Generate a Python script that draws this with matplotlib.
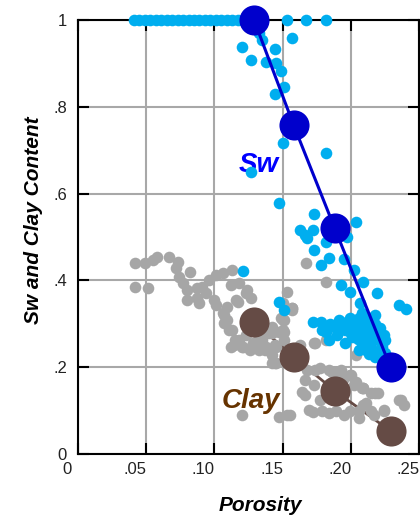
import numpy as np
import matplotlib.pyplot as plt
from matplotlib.transforms import ScaledTranslation

plt.rcParams['font.family'] = ['Liberation Sans', 'DejaVu Sans']

# Sw samples sitting on Sw = 1
sw_top_x = [0.041, 0.045, 0.049, 0.053, 0.057, 0.061, 0.065, 0.069, 0.073, 0.077,
            0.081, 0.085, 0.089, 0.093, 0.097, 0.101, 0.105, 0.109, 0.113, 0.117,
            0.121, 0.125, 0.153, 0.167, 0.182]

# other Sw samples
sw_x = [0.133, 0.135, 0.120, 0.157, 0.144, 0.127, 0.138, 0.145, 0.149, 0.151,
        0.144, 0.150, 0.182, 0.127, 0.147, 0.173, 0.204, 0.163, 0.166, 0.172,
        0.168, 0.182, 0.197, 0.173, 0.184, 0.178, 0.195, 0.202, 0.209, 0.193,
        0.199, 0.219, 0.207, 0.235, 0.240, 0.121, 0.147, 0.151,
        0.172, 0.179, 0.189, 0.191, 0.199, 0.206, 0.213, 0.218, 0.220, 0.223,
        0.201, 0.208, 0.215, 0.211, 0.196, 0.184, 0.218, 0.223, 0.225, 0.211,
        0.218, 0.220, 0.196, 0.206, 0.213, 0.203, 0.190, 0.205, 0.215, 0.222,
        0.218, 0.208, 0.213, 0.182, 0.206,
        0.197, 0.203, 0.209, 0.215, 0.221, 0.224, 0.199, 0.205, 0.211, 0.217,
        0.223, 0.209, 0.215, 0.221, 0.225, 0.219, 0.213, 0.178, 0.185, 0.183,
        0.190]
sw_y = [0.970, 0.954, 0.938, 0.958, 0.933, 0.908, 0.904, 0.900, 0.883, 0.845,
        0.829, 0.716, 0.694, 0.650, 0.578, 0.553, 0.535, 0.516, 0.505, 0.516,
        0.498, 0.488, 0.500, 0.470, 0.452, 0.435, 0.449, 0.424, 0.396, 0.389,
        0.373, 0.371, 0.348, 0.343, 0.334, 0.422, 0.350, 0.332,
        0.304, 0.286, 0.290, 0.309, 0.313, 0.313, 0.313, 0.293, 0.270, 0.247,
        0.270, 0.256, 0.233, 0.240, 0.256, 0.263, 0.224, 0.224, 0.263, 0.300,
        0.300, 0.280, 0.286, 0.286, 0.286, 0.300, 0.275, 0.265, 0.255, 0.235,
        0.320, 0.325, 0.250, 0.281, 0.240,
        0.305, 0.295, 0.305, 0.297, 0.290, 0.275, 0.280, 0.275, 0.270, 0.265,
        0.255, 0.258, 0.245, 0.240, 0.232, 0.228, 0.230, 0.305, 0.300, 0.292,
        0.297]

# clay samples
clay_x = [0.042, 0.049, 0.055, 0.058, 0.067, 0.073, 0.072, 0.082, 0.074, 0.077,
          0.080, 0.080, 0.087, 0.091, 0.096, 0.101, 0.106, 0.087, 0.094, 0.089,
          0.113, 0.042, 0.051, 0.112, 0.116, 0.124, 0.127, 0.101, 0.106, 0.107,
          0.111, 0.115, 0.120, 0.131, 0.138, 0.118, 0.123, 0.117, 0.109, 0.153,
          0.150, 0.157, 0.167, 0.182, 0.151, 0.150, 0.140, 0.135, 0.128, 0.145,
          0.144, 0.163, 0.173, 0.182, 0.204, 0.168, 0.174, 0.184, 0.193, 0.200,
          0.204, 0.209, 0.166, 0.173, 0.164, 0.218, 0.237, 0.239, 0.172, 0.179,
          0.189, 0.199, 0.206, 0.215, 0.224, 0.211, 0.120, 0.147, 0.153, 0.142,
          0.174, 0.186, 0.193, 0.199, 0.208, 0.215, 0.109, 0.113, 0.123, 0.133,
          0.138, 0.142, 0.149, 0.151, 0.157, 0.220,
          0.177, 0.188, 0.195, 0.202, 0.209, 0.191, 0.166, 0.184, 0.195, 0.206,
          0.217, 0.224, 0.169, 0.155, 0.177, 0.235, 0.209,
          0.100, 0.107, 0.118, 0.114, 0.126, 0.137, 0.144, 0.151, 0.112, 0.121,
          0.133, 0.142, 0.145, 0.157, 0.150, 0.147, 0.142]
clay_y = [0.440, 0.440, 0.447, 0.454, 0.454, 0.442, 0.428, 0.419, 0.408, 0.394,
          0.378, 0.355, 0.359, 0.385, 0.401, 0.412, 0.417, 0.382, 0.371, 0.348,
          0.424, 0.385, 0.382, 0.389, 0.355, 0.378, 0.359, 0.343, 0.325, 0.302,
          0.286, 0.263, 0.247, 0.256, 0.247, 0.394, 0.371, 0.350, 0.339, 0.373,
          0.348, 0.336, 0.440, 0.396, 0.309, 0.286, 0.279, 0.263, 0.256, 0.247,
          0.210, 0.251, 0.256, 0.263, 0.228, 0.194, 0.194, 0.194, 0.194, 0.182,
          0.166, 0.152, 0.171, 0.159, 0.143, 0.141, 0.124, 0.113, 0.097, 0.099,
          0.099, 0.099, 0.099, 0.099, 0.099, 0.117, 0.090, 0.085, 0.090, 0.210,
          0.256, 0.189, 0.189, 0.182, 0.152, 0.141, 0.309, 0.286, 0.274, 0.270,
          0.279, 0.293, 0.313, 0.281, 0.336, 0.141,
          0.198, 0.189, 0.175, 0.159, 0.152, 0.136, 0.136, 0.094, 0.090, 0.083,
          0.090, 0.101, 0.101, 0.090, 0.124, 0.124, 0.113,
          0.355, 0.320, 0.263, 0.250, 0.240, 0.240, 0.251, 0.263, 0.247, 0.247,
          0.240, 0.228, 0.210, 0.332, 0.309, 0.281, 0.279]

# averaged trend points
avg_por = [0.129, 0.158, 0.188, 0.229]
avg_sw = [1.00, 0.758, 0.521, 0.200]
avg_clay = [0.304, 0.224, 0.146, 0.053]

xticks = [0, 0.05, 0.10, 0.15, 0.20, 0.25]
xtick_labels = ['0', '.05', '.10', '.15', '.20', '.25']
yticks = [0, 0.2, 0.4, 0.6, 0.8, 1.0]
ytick_labels = ['0', '.2', '.4', '.6', '.8', '1']

cyan = '#00AEEF'
gray = '#A6A6A6'
blue = '#0000CC'
brown = '#654B45'

fig = plt.figure(figsize=(4.2, 5.22), dpi=100)
ax = fig.add_axes([0.1857, 0.1303, 0.8123, 0.8314])

ax.plot(avg_por, avg_clay, color=brown, lw=2, zorder=2)
ax.scatter(clay_x, clay_y, s=70, color=gray, linewidths=0, zorder=3, clip_on=False)
ax.scatter(sw_top_x, [1.0] * len(sw_top_x), s=70, color=cyan, linewidths=0, zorder=4, clip_on=False)
ax.scatter(sw_x, sw_y, s=70, color=cyan, linewidths=0, zorder=4, clip_on=False)
ax.plot(avg_por, avg_sw, color=blue, lw=2.2, zorder=5, clip_on=False)
ax.scatter(avg_por, avg_sw, s=470, color=blue, linewidths=0, zorder=6, clip_on=False)
ax.scatter(avg_por, avg_clay, s=470, color=brown, linewidths=0, zorder=6, clip_on=False)

ax.set_xlim(0, 0.25)
ax.set_ylim(0, 1)
ax.set_xticks(xticks)
ax.set_xticklabels(xtick_labels)
ax.set_yticks(yticks)
ax.set_yticklabels(ytick_labels)
ax.grid(True, color='#A8A8A8', lw=1.5, zorder=0)
ax.set_axisbelow(True)
ax.tick_params(direction='in', length=8, width=1.5, labelsize=12, colors='black',
               top=True, right=True, pad=6)
ax.tick_params(axis='y', pad=8, labelcolor='#222222')
ax.tick_params(axis='x', labelcolor='#222222')
for lab in ax.get_xticklabels():
    lab.set_transform(lab.get_transform() + ScaledTranslation(-0.11, 0, fig.dpi_scale_trans))
for sp in ax.spines.values():
    sp.set_linewidth(1.5)

ax.text(0.118, 0.649, 'Sw', color='#0000FF', fontsize=20, fontweight='bold', style='italic')
ax.text(0.105, 0.105, 'Clay', color='#663300', fontsize=20, fontweight='bold', style='italic')

fig.text(0.62, 0.032, 'Porosity', ha='center', va='center', fontsize=15,
         fontweight='bold', style='italic')
fig.text(0.079, 0.578, 'Sw and Clay Content', ha='center', va='center', rotation=90,
         fontsize=15, fontweight='bold', style='italic')

fig.savefig('out.png', dpi=100)
